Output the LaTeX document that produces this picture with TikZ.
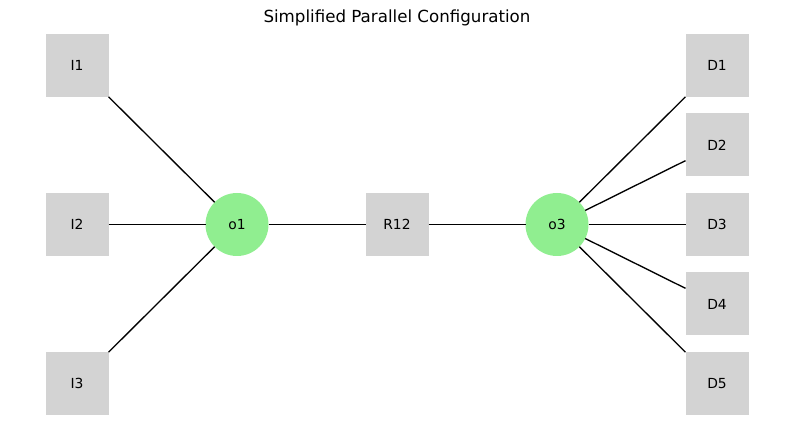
\documentclass[tikz,border=0pt]{standalone}
\usepackage{fontspec}
\setmainfont{DejaVu Sans}
\definecolor{boxgray}{HTML}{D3D3D3}
\definecolor{hubgreen}{HTML}{90EE90}
\tikzset{terminal/.style={fill=boxgray, minimum size=47.25pt, inner sep=0pt, outer sep=0pt, font=\fontsize{10.4}{12}\selectfont},
hub/.style={circle, fill=hubgreen, minimum size=47.25pt, inner sep=0pt, outer sep=0pt, font=\fontsize{10.4}{12}\selectfont},
link/.style={draw=black, line width=1pt}}

\begin{document}
\begin{tikzpicture}[x=0.75pt, y=-0.75pt]
\useasboundingbox (0,0) rectangle (794,427);

\node at (397,18) {\fontsize{12.5}{14}\selectfont Simplified Parallel Configuration};

\node[hub] (o1) at (237,224.5) {o1};
\node[hub] (o3) at (557,224.5) {o3};
\node[terminal] (R12) at (397,224.5) {R12};

\node[terminal] (I1) at (77,65.5) {I1};
\node[terminal] (I2) at (77,224.5) {I2};
\node[terminal] (I3) at (77,383.5) {I3};

\node[terminal] (D1) at (717,65.5) {D1};
\node[terminal] (D2) at (717,145) {D2};
\node[terminal] (D3) at (717,224.5) {D3};
\node[terminal] (D4) at (717,304) {D4};
\node[terminal] (D5) at (717,383.5) {D5};

\foreach \i in {1,2,3}
    \draw[link] (I\i) -- (o1);

\foreach \i in {1,2,3,4,5}
    \draw[link] (o3) -- (D\i);

\draw[link] (o1) -- (R12);
\draw[link] (R12) -- (o3);

\end{tikzpicture}
\end{document}
